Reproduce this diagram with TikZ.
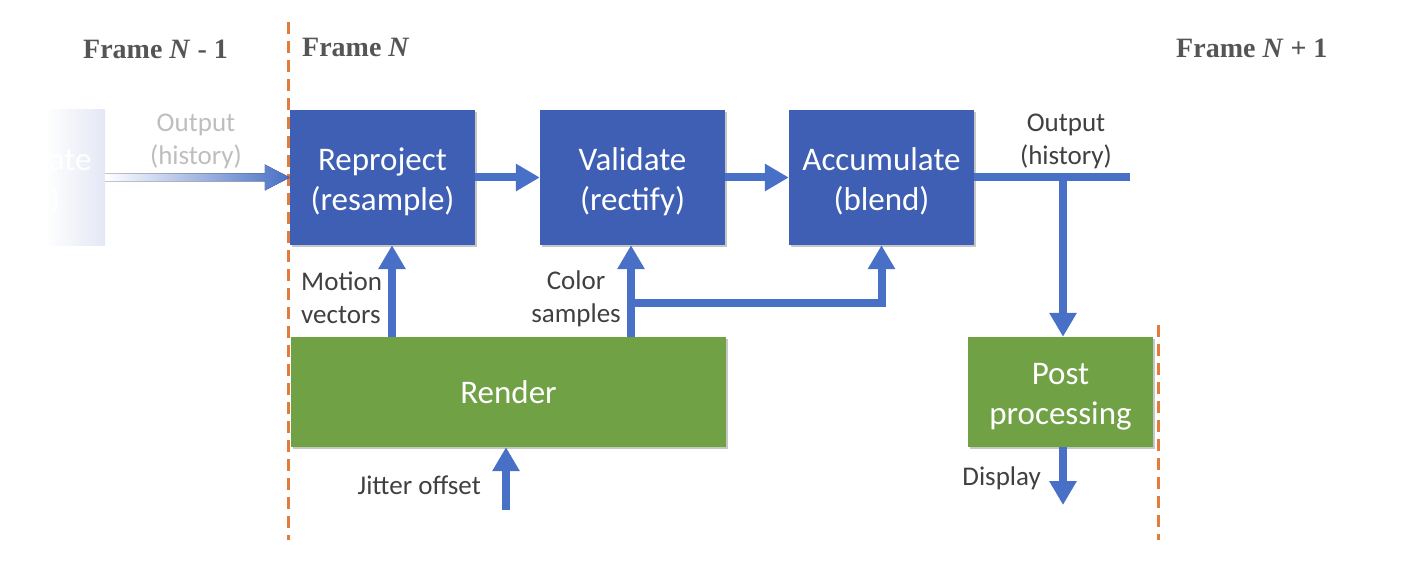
\documentclass[tikz,border=0pt]{standalone}
\usepackage{fontspec}
\setmainfont{Carlito}
\newfontfamily\framefont{Liberation Serif}
\usetikzlibrary{arrows.meta,calc,shadows}
\definecolor{boxblue}{RGB}{62,95,180}
\definecolor{arrowblue}{RGB}{72,112,198}
\definecolor{boxgreen}{RGB}{112,161,69}
\definecolor{frameorange}{RGB}{226,124,60}
\definecolor{labelgray}{RGB}{64,64,64}
\definecolor{titlegray}{RGB}{85,85,85}
\definecolor{ghostblue}{RGB}{228,232,245}
\definecolor{ghostgray}{RGB}{190,190,190}
% uniform first-line height so two-line box texts sit a little low, as set
\newcommand\firstline{\rule{0pt}{31pt}}

\begin{document}
\begin{tikzpicture}[x=1pt,y=1pt,
  boxshadow/.style={drop shadow={shadow xshift=2pt,shadow yshift=-2pt,opacity=0.22,fill=black}},
  stage/.style={rectangle, fill=boxblue, text=white, minimum width=185pt, minimum height=135pt,
    inner sep=0pt, align=center, font=\fontsize{33}{40}\selectfont, boxshadow},
  ghoststage/.style={rectangle, text=white, minimum width=185pt, minimum height=135pt,
    inner sep=0pt, align=center, font=\fontsize{33}{40}\selectfont},
  greenbox/.style={rectangle, fill=boxgreen, text=white, minimum height=110pt,
    inner sep=0pt, align=center, font=\fontsize{33}{40}\selectfont, boxshadow},
  lbl/.style={text=labelgray, inner sep=0pt, font=\fontsize{27}{33}\selectfont},
  frametitle/.style={text=titlegray, inner sep=0pt, anchor=west, font=\framefont\bfseries\fontsize{28}{32}\selectfont},
  flow/.style={draw=arrowblue, line width=8pt, -{Triangle[length=24pt,width=26pt]}},
  flowline/.style={draw=arrowblue, line width=8pt},
  boundary/.style={draw=frameorange, line width=3pt, dash pattern=on 12pt off 7pt},
]
\useasboundingbox (0,0) rectangle (1418,582);

% frame boundaries
\draw[boundary] (288,560) -- (288,42);
\draw[boundary] (1158,257) -- (1158,42);

% frame titles
\node[frametitle] (fprev) at (83,533) {Frame \textit{N} - 1};
\node[frametitle] (fcur)  at (302,535) {Frame \textit{N}};
\node[frametitle] (fnext) at (1176,534) {Frame \textit{N} + 1};

% previous frame's accumulate stage, fading out to the left
\begin{scope}
  \clip (45,330) rectangle (106,480);
  \fill[left color=white, right color=ghostblue] (45,337) rectangle (105,472);
  \node[ghoststage] (prev) at (12.5,404.5) {\firstline Accumulate\\(blend)};
\end{scope}

% pipeline stages of frame N
\node[stage] (reproj) at (382.5,404.5) {\firstline Reproject\\(resample)};
\node[stage] (valid)  at (632.5,404.5) {\firstline Validate\\(rectify)};
\node[stage] (accum)  at (881.5,404.5) {\firstline Accumulate\\(blend)};
\node[greenbox, minimum width=435pt] (render) at (508.5,190) {Render};
\node[greenbox, minimum width=185pt] (post) at (1060.5,190) {\firstline Post\\processing};

% history coming in from the previous frame (faded)
\fill[left color=white, right color=arrowblue]
  ($(prev.east)+(0,4)$) -- ($(reproj.west)+(-25,4)$) -- ($(reproj.west)+(-25,13)$)
  -- (reproj.west) -- ($(reproj.west)+(-25,-13)$) -- ($(reproj.west)+(-25,-4)$)
  -- ($(prev.east)+(0,-4)$) -- cycle;
\node[lbl, text=ghostgray, align=center] (histin) at (196,441) {Output\\(history)};

% stage to stage
\draw[flow] (reproj.east) -- (valid.west);
\draw[flow] (valid.east) -- (accum.west);

% history output and post processing
\coordinate (histend) at (1130,404.5);
\coordinate (split) at (1063,404.5);
\draw[flowline] (accum.east) -- (histend);
\draw[flow] (split) -- (split |- post.north);
\node[lbl, align=center] (histout) at (1066,441) {Output\\(history)};

\coordinate (disp) at (1063,77);
\draw[flow] (disp |- post.south) -- (disp);
\node[lbl, anchor=east] (displbl) at (1041,104) {Display};

% render outputs
\coordinate (mv) at (392,0);
\draw[flow] (render.north -| mv) -- (reproj.south -| mv);
\node[lbl, anchor=west, align=left] (mvlbl) at (301,284) {Motion\\vectors};

\coordinate (cs) at (631,0);
\coordinate (csbranch) at (631,279);
\draw[flow] (render.north -| cs) -- (valid.south -| cs);
\draw[flow] (csbranch) -| (accum.south);
\node[lbl, anchor=east, align=center] (cslbl) at (621,283) {Color\\samples};

% jitter input
\coordinate (jit) at (506,72);
\draw[flow] (jit) -- (render.south -| jit);
\node[lbl, anchor=east] (jitlbl) at (481,97) {Jitter offset};
\end{tikzpicture}
\end{document}
